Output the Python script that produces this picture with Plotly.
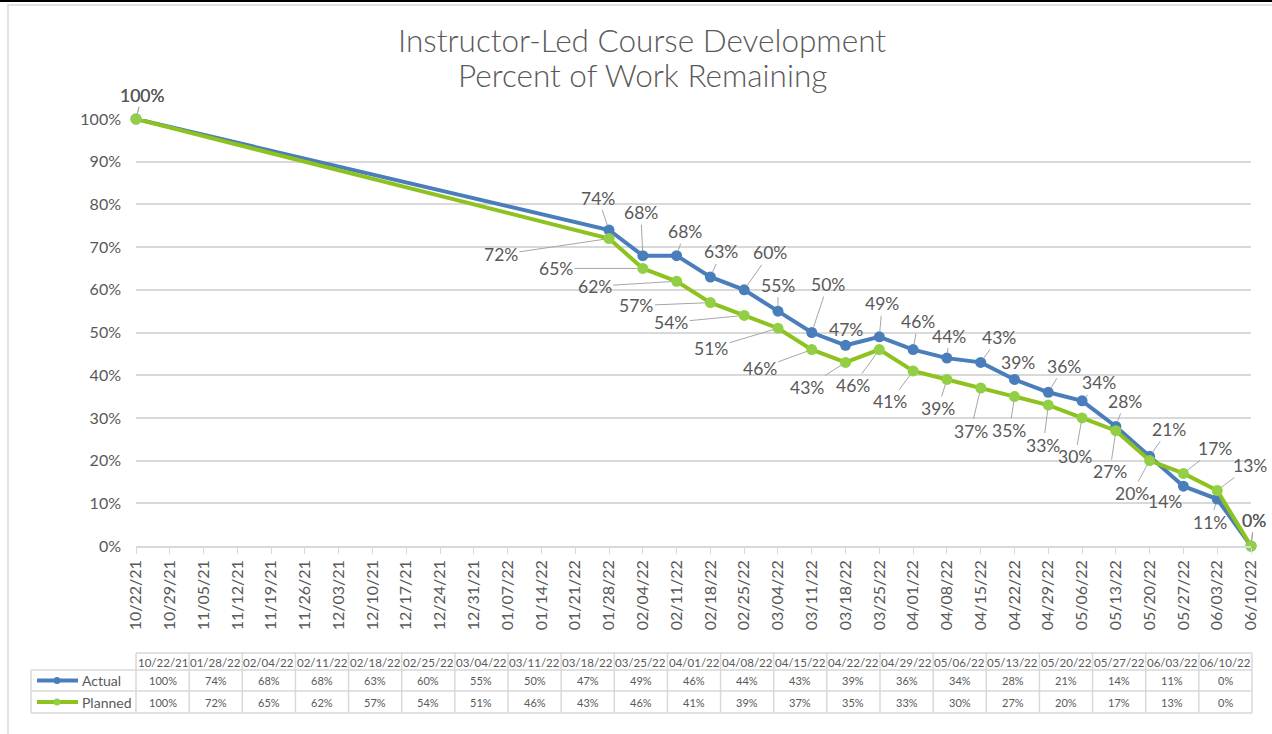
import plotly.graph_objects as go

# ---------------- data ----------------
dates = ["2021-10-22", "2022-01-28", "2022-02-04", "2022-02-11", "2022-02-18", "2022-02-25",
         "2022-03-04", "2022-03-11", "2022-03-18", "2022-03-25", "2022-04-01", "2022-04-08",
         "2022-04-15", "2022-04-22", "2022-04-29", "2022-05-06", "2022-05-13", "2022-05-20",
         "2022-05-27", "2022-06-03", "2022-06-10"]
table_dates = ["10/22/21", "01/28/22", "02/04/22", "02/11/22", "02/18/22", "02/25/22",
               "03/04/22", "03/11/22", "03/18/22", "03/25/22", "04/01/22", "04/08/22",
               "04/15/22", "04/22/22", "04/29/22", "05/06/22", "05/13/22", "05/20/22",
               "05/27/22", "06/03/22", "06/10/22"]
actual = [100, 74, 68, 68, 63, 60, 55, 50, 47, 49, 46, 44, 43, 39, 36, 34, 28, 21, 14, 11, 0]
planned = [100, 72, 65, 62, 57, 54, 51, 46, 43, 46, 41, 39, 37, 35, 33, 30, 27, 20, 17, 13, 0]
series_names = ["Actual", "Planned"]
title_lines = ["Instructor-Led Course Development", "Percent of Work Remaining"]

# ---------------- styling ----------------
BLUE = "#4a7ebb"
GREEN = "#8dc21f"
GREEN_MK = "#92cf45"
GREY_TXT = "#595959"
GRID = "#d9d9d9"
FONT = "Lato, 'Open Sans', sans-serif"

# label offsets (pixels) for data labels
actual_off = [(6, -24), (-11, -32), (-2, -43), (8, -24), (11, -25), (26, -37), (0, -26),
              (16, -48), (0, -16), (3, -33), (5, -28), (2, -22), (18, -25), (4, -17),
              (16, -26), (17, -18), (9, -25), (19, -27), (-18, 15), (-7, 23), (3, -26)]
planned_off = [(6, -24), (-108, 16), (-87, 0), (-82, 5), (-74, 3), (-73, 7), (-67, 20),
               (-52, 19), (-39, 25), (-26, 36), (-23, 31), (-9, 29), (-10, 43), (-5, 34),
               (-5, 40), (-7, 39), (-6, 41), (-18, 33), (32, -25), (33, -25), (3, -26)]

W, H = 1272, 734
PL, PR, PT, PB = 136, 1251, 119, 546  # plot area in pixels


def px(x):
    return (x - PL) / (PR - PL)


def py(y):
    return (PB - y) / (PB - PT)


fig = go.Figure()
fig.add_trace(go.Scatter(x=dates, y=actual, name=series_names[0], mode="lines+markers",
                         line=dict(color=BLUE, width=4), marker=dict(color=BLUE, size=11),
                         cliponaxis=False, hoverinfo="skip"))
fig.add_trace(go.Scatter(x=dates, y=planned, name=series_names[1], mode="lines+markers",
                         line=dict(color=GREEN, width=4), marker=dict(color=GREEN_MK, size=11),
                         cliponaxis=False, hoverinfo="skip"))

annotations = []
for vals, offs in ((actual, actual_off), (planned, planned_off)):
    for d, v, (ax, ay) in zip(dates, vals, offs):
        annotations.append(dict(x=d, y=v, xref="x", yref="y", text=f"{v}%",
                                showarrow=True, arrowhead=0, arrowwidth=1,
                                arrowcolor="#a6a6a6", ax=ax, ay=ay, standoff=5,
                                font=dict(size=17.5, color=GREY_TXT, family=FONT)))


def ptext(x, y, text, size, xanchor="center", weight=None):
    f = dict(size=size, color=GREY_TXT, family=FONT)
    if weight:
        f["weight"] = weight
    annotations.append(dict(x=px(x), y=py(y), xref="paper", yref="paper", text=text,
                            xanchor=xanchor, yanchor="middle", showarrow=False, font=f))


# title
ptext(642, 40, title_lines[0], 31.5, weight=300)
ptext(642, 75, title_lines[1], 31.5, weight=300)

# ---------------- data table below ----------------
shapes = []
col_w = (1252 - 136) / len(table_dates)
t_left, t_x0 = 31, 136
r_top, r_h1, r_h2, r_bot = 653, 670, 691, 713
line_style = dict(color=GRID, width=1.5)


def hline(x0, x1, y):
    shapes.append(dict(type="line", xref="paper", yref="paper", x0=px(x0), x1=px(x1),
                       y0=py(y), y1=py(y), line=line_style))


def vline(x, y0, y1):
    shapes.append(dict(type="line", xref="paper", yref="paper", x0=px(x), x1=px(x),
                       y0=py(y0), y1=py(y1), line=line_style))


t_right = t_x0 + col_w * len(table_dates)
hline(t_x0, t_right, r_top)
hline(t_left, t_right, r_h1)
hline(t_left, t_right, r_h2)
hline(t_left, t_right, r_bot)
vline(t_left, r_h1, r_bot)
for i in range(len(table_dates) + 1):
    vline(t_x0 + col_w * i, r_top, r_bot)

row_y = [(r_h1 + r_h2) / 2, (r_h2 + r_bot) / 2]
for i, lab in enumerate(table_dates):
    cx = t_x0 + col_w * (i + 0.5)
    ptext(cx, (r_top + r_h1) / 2 + 1, lab, 11.5)
    for ry, vals in zip(row_y, (actual, planned)):
        ptext(cx, ry, f"{vals[i]}%", 11)

for ry, name, col, mk in zip(row_y, series_names, (BLUE, GREEN), (BLUE, GREEN_MK)):
    shapes.append(dict(type="line", xref="paper", yref="paper", x0=px(37), x1=px(78),
                       y0=py(ry), y1=py(ry), line=dict(color=col, width=4)))
    shapes.append(dict(type="circle", xref="paper", yref="paper", x0=px(53.5), x1=px(60.5),
                       y0=py(ry - 3.5), y1=py(ry + 3.5), fillcolor=mk, line=dict(width=0)))
    ptext(80, ry, name, 14, xanchor="left")

# outer frame
shapes.append(dict(type="rect", xref="paper", yref="paper", x0=px(8), x1=px(1290),
                   y0=py(740), y1=py(5), line=dict(color="#d9d9d9", width=1.5), layer="below"))
shapes.append(dict(type="line", xref="paper", yref="paper", x0=px(0), x1=px(W),
                   y0=py(1), y1=py(1), line=dict(color="black", width=2)))

fig.update_layout(
    width=W, height=H,
    margin=dict(l=PL, r=W - PR, t=PT, b=H - PB, pad=0),
    paper_bgcolor="white", plot_bgcolor="white",
    showlegend=False,
    hovermode=False,
    font=dict(family=FONT, color=GREY_TXT),
    annotations=annotations,
    shapes=shapes,
    xaxis=dict(type="date", range=["2021-10-22", "2022-06-10"], tick0="2021-10-22",
               dtick=7 * 24 * 3600 * 1000, tickformat="%m/%d/%y", tickangle=-90,
               showgrid=False, showline=True, linecolor=GRID, linewidth=1.5,
               ticks="outside", ticklen=6, tickcolor=GRID,
               tickfont=dict(size=16, color=GREY_TXT, family=FONT), zeroline=False),
    yaxis=dict(range=[0, 100], dtick=10, ticksuffix="%", showgrid=True, gridcolor=GRID,
               gridwidth=1.5, zeroline=False, showline=False, ticks="",
               ticklabelstandoff=14,
               tickfont=dict(size=16, color=GREY_TXT, family=FONT)),
)

fig.write_html("out.html", config={"displayModeBar": False},
               post_script="document.body.style.margin='0px';document.body.style.padding='0px';")
